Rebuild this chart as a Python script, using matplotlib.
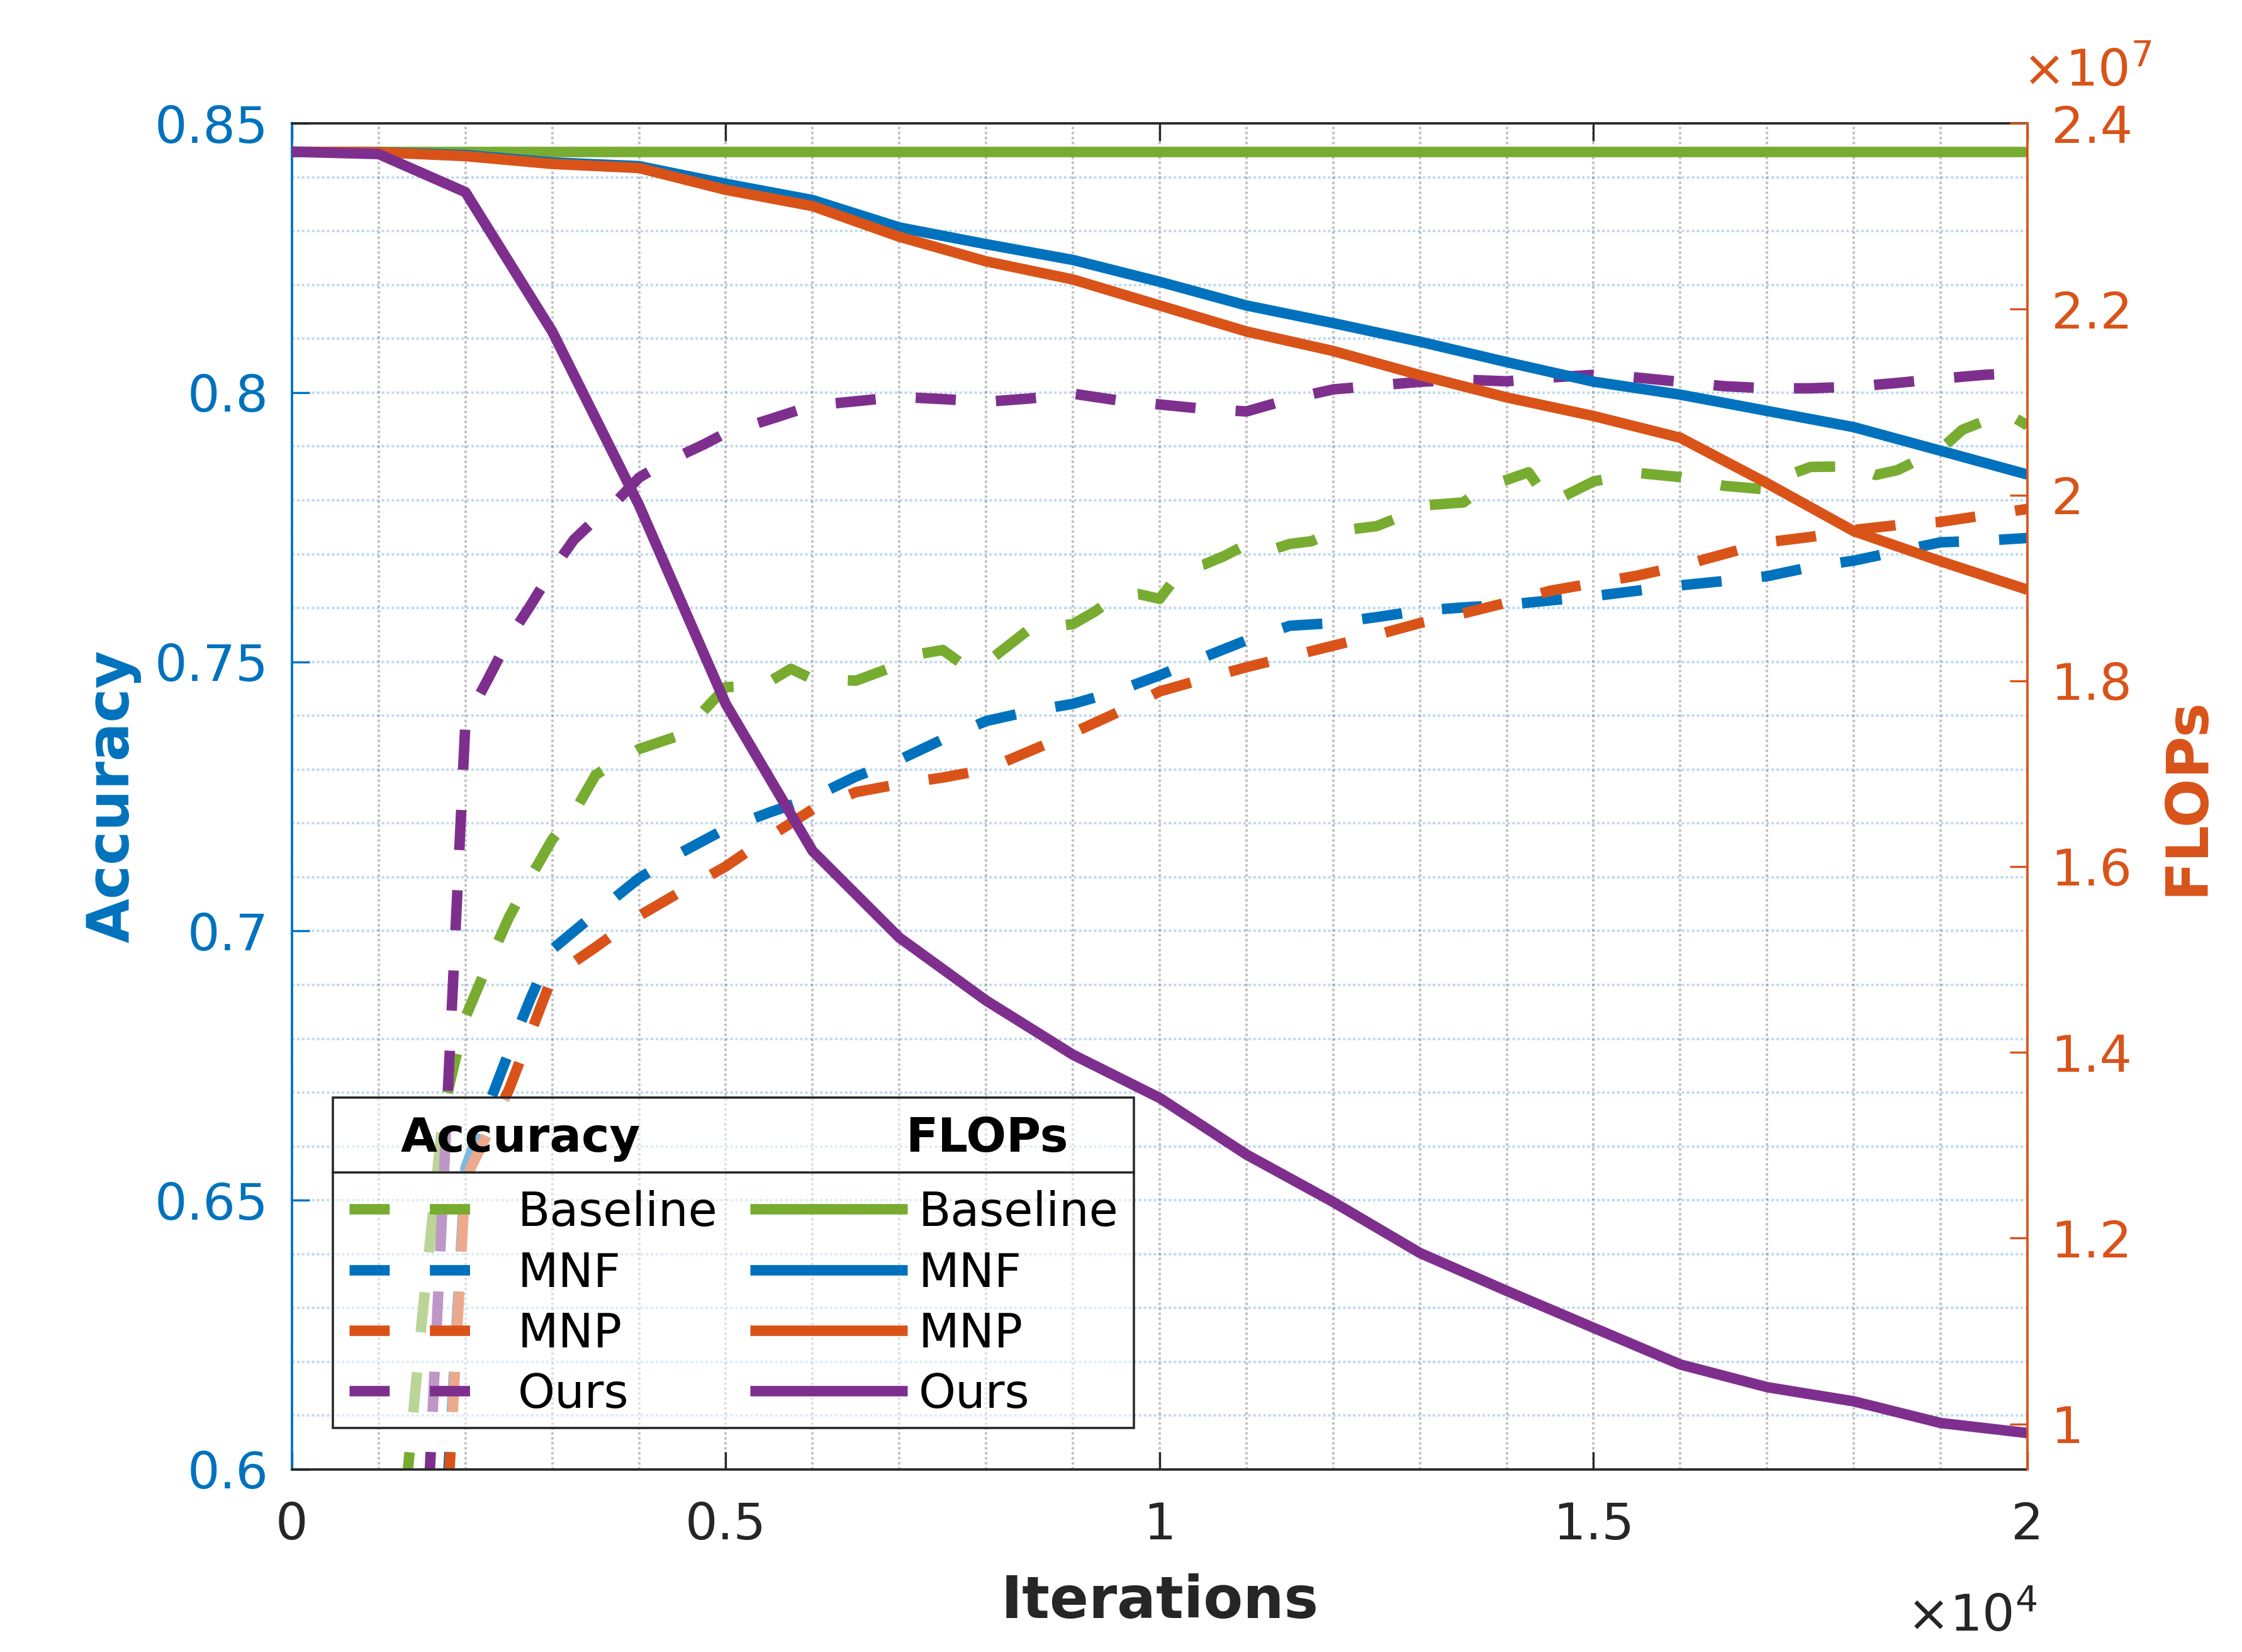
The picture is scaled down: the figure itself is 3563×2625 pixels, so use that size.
import numpy as np
import matplotlib.pyplot as plt
from matplotlib.lines import Line2D
from matplotlib.patches import Rectangle
from matplotlib.ticker import FixedLocator, MultipleLocator, FuncFormatter

plt.rcParams['font.family'] = ['DejaVu Sans']

# MATLAB default colour order
c_blue = '#0072BD'
c_orange = '#D95319'
c_green = '#77AC30'
c_purple = '#7E2F8E'
c_dark = '#262626'

methods = ['Baseline', 'MNF', 'MNP', 'Ours']
colors = [c_green, c_blue, c_orange, c_purple]

# FLOPs (x1e7), logged every 1000 iterations
flops_iter = list(range(0, 20001, 1000))
flops_baseline = [2.3695] * 21
flops_mnf = [2.3695, 2.369, 2.366, 2.358, 2.354, 2.335, 2.3175, 2.288, 2.270, 2.253, 2.2295,
             2.204, 2.185, 2.165, 2.143, 2.122, 2.108, 2.0905, 2.073, 2.0476, 2.022]
flops_mnp = [2.3695, 2.369, 2.3648, 2.3564, 2.352, 2.3285, 2.311, 2.278, 2.2515, 2.232, 2.204,
             2.176, 2.155, 2.129, 2.105, 2.085, 2.0616, 2.0126, 1.961, 1.9286, 1.898]
flops_ours = [2.3695, 2.367, 2.326, 2.176, 1.989, 1.775, 1.6168, 1.5235, 1.4558, 1.3975, 1.3509,
              1.290, 1.2389, 1.184, 1.1432, 1.1035, 1.064, 1.0396, 1.0243, 1.001, 0.9902]

# accuracy checkpoints (iterations, accuracy)
acc_iter_baseline = [0, 1000, 1250, 1500, 1750, 2000, 2250, 2500, 2750, 3000, 3250, 3500, 3750,
                     4000, 4500, 4750, 5000, 5250, 5500, 5750, 6000, 6500, 6750, 7000, 7250,
                     7500, 7750, 8000, 8500, 9000, 9250, 9500, 9750, 10000, 10250, 10500, 10750,
                     11000, 11250, 11500, 11750, 12000, 12500, 12750, 13000, 13500, 13750, 14000,
                     14250, 14500, 15000, 15500, 16000, 16500, 17000, 17250, 17500, 18000, 18250,
                     18500, 19000, 19250, 19750, 20000]
acc_baseline = [0.10, 0.50, 0.585, 0.628, 0.667, 0.684, 0.6935, 0.7025, 0.710, 0.717, 0.722, 0.729,
                0.7315, 0.7338, 0.7365, 0.741, 0.7453, 0.7455, 0.7463, 0.7487, 0.7468, 0.7465,
                0.748, 0.7495, 0.7515, 0.7522, 0.7493, 0.7498, 0.7561, 0.757, 0.7593, 0.7622,
                0.7626, 0.7617, 0.767, 0.768, 0.7697, 0.7718, 0.7706, 0.7719, 0.7724, 0.7742,
                0.7752, 0.7768, 0.779, 0.7796, 0.7826, 0.7838, 0.7852, 0.7795, 0.7835, 0.7851,
                0.7843, 0.7827, 0.782, 0.7847, 0.7862, 0.7863, 0.7847, 0.7856, 0.7895, 0.7931,
                0.7963, 0.7939]

acc_iter_mnf = [0, 1000, 2000, 2250, 2500, 2750, 3000, 3500, 4000, 4500, 5000, 5500, 6000, 6500,
                7000, 7500, 8000, 8500, 9000, 9500, 10000, 10500, 11000, 11500, 12000, 12500,
                13000, 13500, 14000, 14500, 15000, 15500, 16000, 16500, 17000, 17500, 18000,
                18500, 19000, 19500, 20000]
acc_mnf = [0.10, 0.37, 0.656, 0.667, 0.6775, 0.6875, 0.6966, 0.7033, 0.7098, 0.7147, 0.719, 0.722,
           0.7248, 0.7287, 0.7318, 0.7356, 0.739, 0.7408, 0.7422, 0.7445, 0.7475, 0.7508, 0.754,
           0.7567, 0.7572, 0.7583, 0.7595, 0.7601, 0.7606, 0.7614, 0.7622, 0.7632, 0.7642, 0.765,
           0.7659, 0.7676, 0.7688, 0.7705, 0.7722, 0.7725, 0.773]

acc_iter_mnp = [0, 1000, 2000, 2500, 2750, 3000, 3500, 4000, 4500, 5000, 5500, 6000, 6500, 7000,
                7500, 8000, 8500, 9000, 9500, 10000, 10500, 11000, 11500, 12000, 12500, 13000,
                13500, 14000, 14500, 15000, 15500, 16000, 16500, 17000, 17500, 18000, 18500,
                19000, 19500, 20000]
acc_mnp = [0.10, 0.36, 0.654, 0.6705, 0.681, 0.6915, 0.697, 0.7028, 0.7075, 0.712, 0.7175, 0.7226,
           0.7258, 0.7273, 0.7285, 0.730, 0.7334, 0.7368, 0.7405, 0.7445, 0.7468, 0.749, 0.751,
           0.753, 0.755, 0.7572, 0.759, 0.761, 0.7632, 0.7646, 0.766, 0.7678, 0.770, 0.7722,
           0.7732, 0.7745, 0.7754, 0.776, 0.7772, 0.7784]

acc_iter_ours = [0, 1000, 2000, 2250, 2500, 2750, 3000, 3250, 3500, 3750, 4000, 4250, 4500, 4750,
                 5000, 5500, 6000, 6500, 7000, 7500, 8000, 8500, 9000, 9500, 10000, 10500, 11000,
                 11500, 12000, 12500, 13000, 13500, 14000, 14500, 15000, 15500, 16000, 16500,
                 17000, 17500, 18000, 18500, 19000, 19500, 20000]
acc_ours = [0.10, 0.40, 0.739, 0.7465, 0.7543, 0.7605, 0.767, 0.7727, 0.7765, 0.780, 0.7842,
            0.7866, 0.7885, 0.7904, 0.7925, 0.795, 0.7976, 0.7984, 0.7992, 0.7988, 0.7983, 0.7989,
            0.7998, 0.7986, 0.7978, 0.797, 0.7965, 0.7988, 0.8006, 0.8013, 0.802, 0.8024, 0.8021,
            0.8028, 0.8033, 0.8028, 0.802, 0.8012, 0.8008, 0.8008, 0.8011, 0.8018, 0.8026,
            0.8033, 0.8037]

acc_iters = [acc_iter_baseline, acc_iter_mnf, acc_iter_mnp, acc_iter_ours]
acc_vals = [acc_baseline, acc_mnf, acc_mnp, acc_ours]
flops_vals = [flops_baseline, flops_mnf, flops_mnp, flops_ours]

acc_ticks = [0.6, 0.65, 0.7, 0.75, 0.8, 0.85]
flops_ticks = [1.0, 1.2, 1.4, 1.6, 1.8, 2.0, 2.2, 2.4]
iter_ticks = [0, 5000, 10000, 15000, 20000]

LW = 4.0
DASH = (3.83, 3.83)
TICK_FS = 19.5
LABEL_FS = 22
LEG_FS = 18

fig = plt.figure(figsize=(3563 / 300, 2625 / 300), dpi=300)
ax = fig.add_axes([0.1302, 0.1105, 0.7741, 0.8148])
ax2 = ax.twinx()

# accuracy (left, dashed)
for xs, ys, col in zip(acc_iters, acc_vals, colors):
    ax.plot(xs, ys, color=col, lw=LW, linestyle=(0, DASH), dash_capstyle='butt')

# FLOPs (right, solid)
for ys, col in zip(flops_vals, colors):
    ax2.plot(flops_iter, np.array(ys) * 1e7, color=col, lw=LW, solid_capstyle='butt')

ax.set_xlim(0, 20000)
ax.set_ylim(0.6, 0.85)
ax2.set_ylim(0.951e7, 2.4e7)

# grid
ax.xaxis.set_major_locator(FixedLocator(iter_ticks))
ax.xaxis.set_minor_locator(MultipleLocator(1000))
ax.yaxis.set_major_locator(FixedLocator(acc_ticks))
ax.yaxis.set_minor_locator(MultipleLocator(0.01))
dots = (0, (1.0, 1.0))
ax.grid(which='both', axis='x', color=c_dark, alpha=0.28, lw=0.95, linestyle=dots)
ax.grid(which='both', axis='y', color=c_blue, alpha=0.26, lw=0.95, linestyle=dots)
ax.set_axisbelow(True)

ax.xaxis.set_major_formatter(FuncFormatter(lambda v, p: '%g' % (v / 1e4)))
ax.yaxis.set_major_formatter(FuncFormatter(lambda v, p: '%g' % v))
ax2.yaxis.set_major_locator(FixedLocator([t * 1e7 for t in flops_ticks]))
ax2.yaxis.set_major_formatter(FuncFormatter(lambda v, p: '%g' % round(v / 1e7, 4)))

tick_len = 6.7
ax.tick_params(axis='x', which='major', direction='in', top=True, length=tick_len, width=0.8,
               color=c_dark, labelcolor=c_dark, labelsize=TICK_FS, pad=12)
ax.tick_params(axis='y', which='major', direction='in', length=tick_len, width=0.8,
               color=c_blue, labelcolor=c_blue, labelsize=TICK_FS, pad=9)
ax.tick_params(which='minor', length=0)
ax2.tick_params(axis='y', which='major', direction='in', length=tick_len, width=0.8,
                color=c_orange, labelcolor=c_orange, labelsize=TICK_FS, pad=9)
ax2.tick_params(which='minor', length=0)

for s in ['top', 'bottom']:
    ax.spines[s].set_color(c_dark)
    ax.spines[s].set_linewidth(0.9)
    ax2.spines[s].set_visible(False)
ax.spines['left'].set_color(c_blue)
ax.spines['left'].set_linewidth(0.9)
ax.spines['right'].set_visible(False)
ax2.spines['left'].set_visible(False)
ax2.spines['right'].set_color(c_orange)
ax2.spines['right'].set_linewidth(0.9)

ax.set_xlabel('Iterations', fontsize=LABEL_FS, fontweight='bold', color=c_dark)
ax.xaxis.label.set_va('baseline')
ax.xaxis.set_label_coords(0.5, -0.1103)
ax.set_ylabel('Accuracy', fontsize=LABEL_FS, fontweight='bold', color=c_blue)
ax.yaxis.label.set_va('baseline')
ax.yaxis.set_label_coords(-0.0939, 0.5)
ax2.set_ylabel('FLOPs', fontsize=LABEL_FS, fontweight='bold', color=c_orange, rotation=90)
ax2.yaxis.label.set_va('baseline')
ax2.yaxis.set_label_coords(1.1012, 0.5)

ax.text(1.0054, -0.1201, r'$\times10^{4}$', transform=ax.transAxes, ha='right', va='baseline',
        fontsize=TICK_FS, color=c_dark)
ax2.text(0.997, 1.0276, r'$\times10^{7}$', transform=ax2.transAxes, ha='left', va='baseline',
         fontsize=TICK_FS, color=c_orange)

# two-column legend with header row (axes-fraction layout)
def fx(px):
    return (px - 464) / 2758.0

def fy(py):
    return (2335 - py) / 2139.0

T = ax2.transAxes
box = Rectangle((fx(529), fy(2269)), fx(1802) - fx(529), fy(1744) - fy(2269), transform=T,
                facecolor=(1, 1, 1, 0.5), edgecolor=c_dark, lw=0.85, zorder=5, clip_on=False)
ax2.add_patch(box)
ax2.add_line(Line2D([fx(529), fx(1802)], [fy(1862.6), fy(1862.6)], transform=T, color=c_dark,
                    lw=0.85, zorder=6, clip_on=False))
ax2.text(fx(637), fy(1830), 'Accuracy', transform=T, fontsize=LEG_FS, fontweight='bold',
         color='black', ha='left', va='baseline', zorder=7)
ax2.text(fx(1439), fy(1830), 'FLOPs', transform=T, fontsize=LEG_FS, fontweight='bold',
         color='black', ha='left', va='baseline', zorder=7)
row_px = [1921, 2017.6, 2114, 2210.4]
for name, col, ry in zip(methods, colors, row_px):
    ax2.add_line(Line2D([fx(554.7), fx(804)], [fy(ry), fy(ry)], transform=T, color=col, lw=LW,
                        linestyle=(0, DASH), dash_capstyle='butt', zorder=6, clip_on=False))
    ax2.text(fx(823), fy(ry + 27), name, transform=T, fontsize=LEG_FS, color='black',
             ha='left', va='baseline', zorder=7)
    ax2.add_line(Line2D([fx(1191.7), fx(1441.7)], [fy(ry), fy(ry)], transform=T, color=col,
                        lw=LW, solid_capstyle='butt', zorder=6, clip_on=False))
    ax2.text(fx(1460), fy(ry + 27), name, transform=T, fontsize=LEG_FS, color='black',
             ha='left', va='baseline', zorder=7)

fig.savefig('out.png', dpi=300, facecolor='white')
